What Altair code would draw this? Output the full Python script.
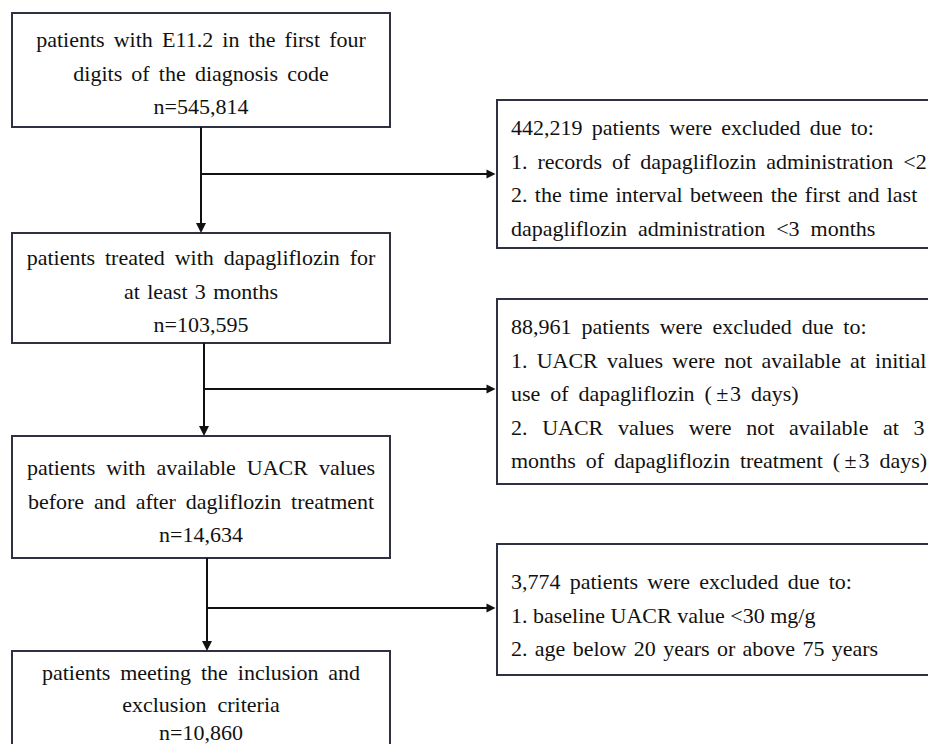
import altair as alt
import pandas as pd

# ---------------- content ----------------
main_boxes = [
    ["patients with E11.2 in the first four", "digits of the diagnosis code", "n=545,814"],
    ["patients treated with dapagliflozin for", "at least 3 months", "n=103,595"],
    ["patients with available UACR values", "before and after dagliflozin treatment", "n=14,634"],
    ["patients meeting the inclusion and", "exclusion criteria", "n=10,860"],
]
excluded_boxes = [
    ["442,219 patients were excluded due to:",
     "1. records of dapagliflozin administration <2",
     "2. the time interval between the first and last",
     "dapagliflozin administration <3 months"],
    ["88,961 patients were excluded due to:",
     "1. UACR values were not available at initial",
     "use of dapagliflozin (\u00b13 days)",
     "2. UACR values were not available at 3",
     "months of dapagliflozin treatment (\u00b13 days)"],
    ["3,774 patients were excluded due to:",
     "1. baseline UACR value <30 mg/g",
     "2. age below 20 years or above 75 years"],
]

# ---------------- layout / style (pixel frame of the 936x752 figure) ----------------
SP6, SP_THIN, SP4, SP_HAIR = "\u2006", "\u2009", "\u2005", "\u200a"
main_word_pad = [[SP6, SP6, ""], [SP_THIN, SP_HAIR, ""], [SP4, SP_THIN, ""], [SP_THIN, SP4, ""]]
excl_word_pad = [[SP6, SP_THIN, SP_HAIR, SP4],
                 [SP_THIN, SP6, SP_THIN, SP4 + SP6, SP_THIN],
                 [SP6, "", SP_HAIR]]

main_left, main_right = 12, 390
main_top = [13, 233, 436, 651]
main_bottom = [127, 343, 558, 800]
main_baselines = [[47, 80.6, 114.2], [265, 298.6, 332.2], [475, 508.6, 542.2], [680, 712, 740]]
conn_x = [201, 204, 207]
excl_left = 497
excl_top = [100, 299, 544]
excl_bottom = [248, 484, 675]
excl_text_x = 511
excl_first_baseline = [135, 334, 589]
branch_y = [174, 389, 608]
line_gap = 33.6
FAR_RIGHT = 1000

FONT = "Liberation Serif"
FS = 22
BORDER = "#2d3142"
INK = "#111111"


def spaced(s, pad):
    s = s.replace("\u00b1", SP_THIN + "\u00b1" + SP_HAIR)
    return s.replace(" ", " " + pad) if pad else s


# ---------------- tables ----------------
edges = []
for i, (t, b) in enumerate(zip(main_top, main_bottom)):
    edges.append(dict(x=main_left, x2=main_right, y=t, y2=t))
    if i < 3:
        edges.append(dict(x=main_left, x2=main_right, y=b, y2=b))
    edges.append(dict(x=main_left, x2=main_left, y=t, y2=b))
    edges.append(dict(x=main_right, x2=main_right, y=t, y2=b))
for t, b in zip(excl_top, excl_bottom):
    edges.append(dict(x=excl_left, x2=excl_left, y=t, y2=b))
edges = pd.DataFrame(edges)

open_edges = []
for t, b in zip(excl_top, excl_bottom):
    open_edges.append(dict(x=excl_left - 1, x2=FAR_RIGHT, y=t))
    open_edges.append(dict(x=excl_left - 1, x2=FAR_RIGHT, y=b))
open_edges = pd.DataFrame(open_edges)

rules = []
arrows_down = []
arrows_right = []
for i in range(3):
    cx = conn_x[i]
    rules.append(dict(x=cx, x2=cx, y=main_bottom[i], y2=main_top[i + 1] - 8))
    arrows_down.append(dict(x=cx, y=main_top[i + 1] - 5))
    rules.append(dict(x=cx, x2=excl_left - 8, y=branch_y[i], y2=branch_y[i]))
    arrows_right.append(dict(x=excl_left - 6, y=branch_y[i]))
rules = pd.DataFrame(rules)
arrows_down = pd.DataFrame(arrows_down)
arrows_right = pd.DataFrame(arrows_right)

center_text = []
for i, lines in enumerate(main_boxes):
    for j, s in enumerate(lines):
        center_text.append(dict(x=(main_left + main_right) / 2,
                                y=main_baselines[i][j],
                                text=spaced(s, main_word_pad[i][j])))
center_text = pd.DataFrame(center_text)

left_text = []
for i, lines in enumerate(excluded_boxes):
    for j, s in enumerate(lines):
        left_text.append(dict(x=excl_text_x,
                              y=excl_first_baseline[i] + j * line_gap,
                              text=spaced(s, excl_word_pad[i][j])))
left_text = pd.DataFrame(left_text)

xs = alt.Scale(domain=[8, 928])
ys = alt.Scale(domain=[8, 744], reverse=True)

edge_layer = alt.Chart(edges).mark_rule(color=BORDER, strokeWidth=2, strokeCap="square").encode(
    x=alt.X("x:Q", scale=xs, axis=None), x2="x2:Q",
    y=alt.Y("y:Q", scale=ys, axis=None), y2="y2:Q")

open_layer = alt.Chart(open_edges).mark_rule(color=BORDER, strokeWidth=2).encode(
    x=alt.X("x:Q", scale=xs, axis=None), x2="x2:Q",
    y=alt.Y("y:Q", scale=ys, axis=None))

rule_layer = alt.Chart(rules).mark_rule(color=INK, strokeWidth=2).encode(
    x=alt.X("x:Q", scale=xs, axis=None), x2="x2:Q",
    y=alt.Y("y:Q", scale=ys, axis=None), y2="y2:Q")

down_layer = alt.Chart(arrows_down).mark_point(
    shape="M-1,-1L0,1L1,-1Z", filled=True, fill=INK, size=100, opacity=1).encode(
    x=alt.X("x:Q", scale=xs, axis=None), y=alt.Y("y:Q", scale=ys, axis=None))

right_layer = alt.Chart(arrows_right).mark_point(
    shape="M-1,-1L1,0L-1,1Z", filled=True, fill=INK, size=81, opacity=1).encode(
    x=alt.X("x:Q", scale=xs, axis=None), y=alt.Y("y:Q", scale=ys, axis=None))

ctext_layer = alt.Chart(center_text).mark_text(
    font=FONT, fontSize=FS, align="center", baseline="alphabetic", color=INK).encode(
    x=alt.X("x:Q", scale=xs, axis=None), y=alt.Y("y:Q", scale=ys, axis=None), text="text:N")

ltext_layer = alt.Chart(left_text).mark_text(
    font=FONT, fontSize=FS, align="left", baseline="alphabetic", color=INK).encode(
    x=alt.X("x:Q", scale=xs, axis=None), y=alt.Y("y:Q", scale=ys, axis=None), text="text:N")

chart = alt.layer(edge_layer, open_layer, rule_layer, down_layer, right_layer,
                  ctext_layer, ltext_layer).properties(
    width=920, height=736, padding=0, autosize=alt.AutoSizeParams(type="none"),
    background="white",
).configure_view(stroke=None)

chart.save("out.html", embed_options={"renderer": "svg", "actions": False})
